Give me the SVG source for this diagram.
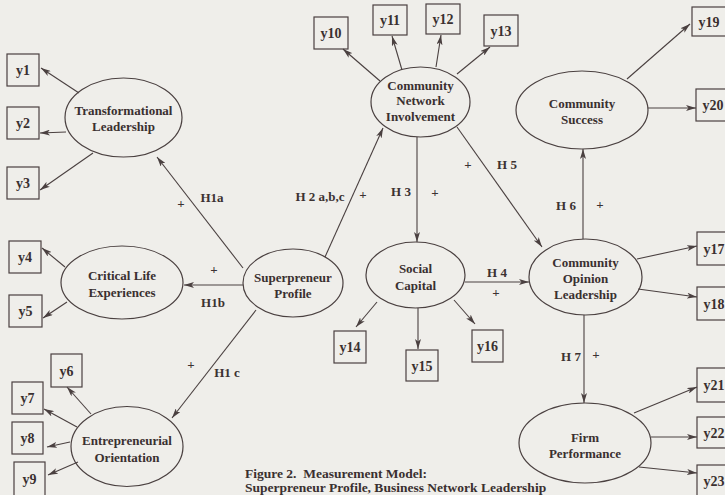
<svg xmlns="http://www.w3.org/2000/svg" width="725" height="495" viewBox="0 0 725 495">
<style>
ellipse,rect{fill:none;stroke:#4a4040;stroke-width:1.2}
.c line{stroke:#4a4040;stroke-width:1.1}
text{font-family:"Liberation Serif","Times New Roman",serif;fill:#3a3030;font-weight:bold;text-anchor:middle}
.n{font-size:13px}
.b{font-size:14px}
.l{font-size:13px}
.p{font-size:13px;font-weight:bold}
.cap{font-size:13.5px;text-anchor:start;white-space:pre}
#labels{opacity:0.99}
</style>
<defs>
<marker id="a" viewBox="0 0 10 6" refX="10" refY="3" markerWidth="10" markerHeight="6" markerUnits="userSpaceOnUse" orient="auto">
<path d="M0,0 L10,3 L0,6 L2.5,3 z" fill="#4a4040"/>
</marker>
</defs>
<rect x="0" y="0" width="725" height="495" style="stroke:none;fill:#efeeea"/>

<g class="c">
<line x1="79" y1="93" x2="41" y2="68" marker-end="url(#a)"/>
<line x1="66" y1="132" x2="40" y2="133" marker-end="url(#a)"/>
<line x1="93" y1="153" x2="40" y2="190" marker-end="url(#a)"/>
<line x1="243" y1="268" x2="157" y2="157" marker-end="url(#a)"/>
<line x1="243" y1="285" x2="184" y2="285" marker-end="url(#a)"/>
<line x1="65" y1="267" x2="42" y2="248" marker-end="url(#a)"/>
<line x1="67" y1="302" x2="43" y2="318" marker-end="url(#a)"/>
<line x1="256" y1="310" x2="172" y2="418" marker-end="url(#a)"/>
<line x1="91" y1="414" x2="67" y2="387" marker-end="url(#a)"/>
<line x1="77" y1="427" x2="44" y2="409" marker-end="url(#a)"/>
<line x1="70" y1="442" x2="47" y2="447" marker-end="url(#a)"/>
<line x1="78" y1="462" x2="48" y2="475" marker-end="url(#a)"/>
<line x1="325" y1="257" x2="383" y2="128" marker-end="url(#a)"/>
<line x1="380" y1="81" x2="343" y2="49" marker-end="url(#a)"/>
<line x1="402" y1="70" x2="392" y2="36" marker-end="url(#a)"/>
<line x1="436" y1="67" x2="441" y2="35" marker-end="url(#a)"/>
<line x1="457" y1="74" x2="490" y2="47" marker-end="url(#a)"/>
<line x1="417" y1="137" x2="417" y2="242" marker-end="url(#a)"/>
<line x1="457" y1="127" x2="542" y2="247" marker-end="url(#a)"/>
<line x1="465" y1="282" x2="529" y2="282" marker-end="url(#a)"/>
<line x1="377" y1="302" x2="356" y2="327" marker-end="url(#a)"/>
<line x1="418" y1="308" x2="418" y2="349" marker-end="url(#a)"/>
<line x1="454" y1="300" x2="475" y2="324" marker-end="url(#a)"/>
<line x1="583" y1="239" x2="583" y2="149" marker-end="url(#a)"/>
<line x1="627" y1="79" x2="690" y2="24" marker-end="url(#a)"/>
<line x1="648" y1="108" x2="696" y2="108" marker-end="url(#a)"/>
<line x1="637" y1="259" x2="697" y2="246" marker-end="url(#a)"/>
<line x1="638" y1="289" x2="697" y2="297" marker-end="url(#a)"/>
<line x1="584" y1="315" x2="584" y2="403" marker-end="url(#a)"/>
<line x1="634" y1="413" x2="697" y2="387" marker-end="url(#a)"/>
<line x1="651" y1="437" x2="697" y2="437" marker-end="url(#a)"/>
<line x1="639" y1="467" x2="697" y2="473" marker-end="url(#a)"/>
</g>

<g id="labels">
<text class="p" x="181" y="208">+</text>
<text class="l" x="212" y="202">H1a</text>
<text class="p" x="214" y="274">+</text>
<text class="l" x="213" y="307">H1b</text>
<text class="p" x="191" y="369">+</text>
<text class="l" x="227" y="377">H1 c</text>
<text class="l" x="320" y="201">H 2 a,b,c</text>
<text class="p" x="363" y="199">+</text>
<text class="l" x="401" y="196">H 3</text>
<text class="p" x="435" y="197">+</text>
<text class="p" x="468" y="169">+</text>
<text class="l" x="507" y="169">H 5</text>
<text class="l" x="497" y="277">H 4</text>
<text class="p" x="496" y="297">+</text>
<text class="l" x="566" y="210">H 6</text>
<text class="p" x="600" y="209">+</text>
<text class="l" x="571" y="361">H 7</text>
<text class="p" x="596" y="359">+</text>
</g>

<g id="TL"><ellipse cx="123.5" cy="117.5" rx="58.5" ry="39.5"/><text class="n" x="123.5" y="114.5">Transformational</text><text class="n" x="123.5" y="130.5">Leadership</text></g>
<g id="CLE"><ellipse cx="122" cy="282.5" rx="61" ry="36.5"/><text class="n" x="122" y="279.5">Critical Life</text><text class="n" x="122" y="296.5">Experiences</text></g>
<g id="SP"><ellipse cx="293" cy="283" rx="50" ry="34"/><text class="n" x="293" y="281.5">Superpreneur</text><text class="n" x="293" y="297.5">Profile</text></g>
<g id="EO"><ellipse cx="127" cy="446.5" rx="56" ry="40"/><text class="n" x="127" y="444.5">Entrepreneurial</text><text class="n" x="127" y="461.5">Orientation</text></g>
<g id="CNI"><ellipse cx="420.5" cy="102" rx="49.5" ry="35"/><text class="n" x="420.5" y="89.5">Community</text><text class="n" x="420.5" y="105">Network</text><text class="n" x="420.5" y="121">Involvement</text></g>
<g id="CS"><ellipse cx="582" cy="110" rx="66" ry="39"/><text class="n" x="582" y="107.5">Community</text><text class="n" x="582" y="123.5">Success</text></g>
<g id="SC"><ellipse cx="415.5" cy="275" rx="49.5" ry="33"/><text class="n" x="415.5" y="272.5">Social</text><text class="n" x="415.5" y="289.5">Capital</text></g>
<g id="COL"><ellipse cx="585.5" cy="277" rx="56.5" ry="38"/><text class="n" x="585.5" y="266.5">Community</text><text class="n" x="585.5" y="282.5">Opinion</text><text class="n" x="585.5" y="298.5">Leadership</text></g>
<g id="FP"><ellipse cx="585" cy="443" rx="66" ry="40"/><text class="n" x="585" y="441.5">Firm</text><text class="n" x="585" y="457.5">Performance</text></g>

<g id="y1"><rect x="7" y="54" width="32" height="32"/><text class="b" x="23" y="75">y1</text></g>
<g id="y2"><rect x="7" y="107" width="32" height="32"/><text class="b" x="23" y="128">y2</text></g>
<g id="y3"><rect x="7" y="167" width="32" height="32"/><text class="b" x="23" y="188">y3</text></g>
<g id="y4"><rect x="9" y="241" width="32" height="32"/><text class="b" x="25" y="262">y4</text></g>
<g id="y5"><rect x="9" y="295" width="33" height="32"/><text class="b" x="25.5" y="316">y5</text></g>
<g id="y6"><rect x="51" y="354" width="31" height="33"/><text class="b" x="66.5" y="375.5">y6</text></g>
<g id="y7"><rect x="12" y="382" width="31" height="32"/><text class="b" x="27.5" y="403">y7</text></g>
<g id="y8"><rect x="12" y="422" width="31" height="32"/><text class="b" x="27.5" y="443">y8</text></g>
<g id="y9"><rect x="14" y="462" width="31" height="34"/><text class="b" x="29.5" y="483.5">y9</text></g>
<g id="y10"><rect x="314" y="17" width="34" height="32"/><text class="b" x="331" y="38">y10</text></g>
<g id="y11"><rect x="373" y="5" width="34" height="30"/><text class="b" x="390" y="25">y11</text></g>
<g id="y12"><rect x="426" y="4" width="34" height="30"/><text class="b" x="443" y="24">y12</text></g>
<g id="y13"><rect x="484" y="15" width="34" height="31"/><text class="b" x="501" y="35.5">y13</text></g>
<g id="y14"><rect x="334" y="331" width="32" height="32"/><text class="b" x="350" y="352">y14</text></g>
<g id="y15"><rect x="406" y="350" width="32" height="31"/><text class="b" x="422" y="370.5">y15</text></g>
<g id="y16"><rect x="472" y="330" width="31" height="32"/><text class="b" x="487.5" y="351">y16</text></g>
<g id="y17"><rect x="697" y="232" width="34" height="33"/><text class="b" x="714" y="253.5">y17</text></g>
<g id="y18"><rect x="697" y="287" width="34" height="33"/><text class="b" x="714" y="308.5">y18</text></g>
<g id="y19"><rect x="692" y="7" width="34" height="29"/><text class="b" x="709" y="26.5">y19</text></g>
<g id="y20"><rect x="696" y="89" width="34" height="32"/><text class="b" x="713" y="110">y20</text></g>
<g id="y21"><rect x="697" y="368" width="34" height="34"/><text class="b" x="714" y="390">y21</text></g>
<g id="y22"><rect x="697" y="417" width="34" height="31"/><text class="b" x="714" y="437.5">y22</text></g>
<g id="y23"><rect x="697" y="465" width="34" height="32"/><text class="b" x="714" y="486">y23</text></g>

<text class="cap" x="245" y="478">Figure 2.  Measurement Model:</text>
<text class="cap" x="245" y="492">Superpreneur Profile, Business Network Leadership</text>
</svg>
